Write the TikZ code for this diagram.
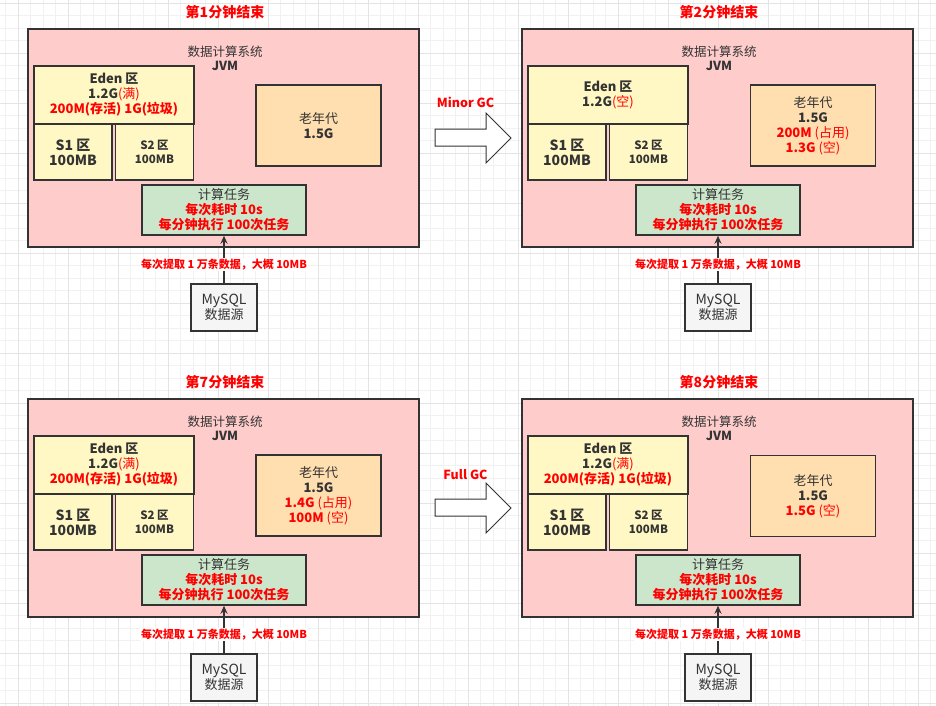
\documentclass[tikz,border=0pt]{standalone}
\usepackage{fontspec}
\setmainfont{Noto Sans CJK SC}
\usetikzlibrary{arrows.meta}

\definecolor{panelpink}{HTML}{FFCCCC}
\definecolor{edenyellow}{HTML}{FFF8C4}
\definecolor{oldorange}{HTML}{FFDFB0}
\definecolor{taskgreen}{HTML}{CCE6CC}
\definecolor{srcgray}{HTML}{F5F5F5}
\definecolor{linegray}{HTML}{333333}
\definecolor{txtred}{HTML}{FF0000}
\definecolor{gridlight}{HTML}{F1F1F1}
\definecolor{griddark}{HTML}{E4E4E4}

\newcommand{\redtxt}[1]{\textcolor{txtred}{#1}}

\begin{document}
\begin{tikzpicture}[
    x=1pt, y=-1pt,
    panel/.style={rectangle, draw=linegray, line width=1.6pt, fill=panelpink, minimum width=391pt, minimum height=218pt},
    box/.style={rectangle, draw=linegray, line width=1.4pt, align=center, text=linegray, inner sep=0pt, font=\fontsize{13}{15}\selectfont},
    eden/.style={box, fill=edenyellow, minimum width=160pt, minimum height=58pt},
    survivor/.style={box, fill=edenyellow, minimum width=78pt, minimum height=56pt},
    oldgen/.style={box, fill=oldorange, minimum width=125pt, minimum height=81pt},
    task/.style={box, fill=taskgreen, minimum width=164pt, minimum height=50pt},
    source/.style={box, fill=srcgray, minimum width=66pt, minimum height=47pt},
    heading/.style={align=center, text=linegray, font=\fontsize{12.5}{14.5}\selectfont},
    title/.style={text=txtred, font=\fontsize{14}{16}\selectfont\bfseries},
    arrow/.style={-{Stealth[length=8pt,width=7pt]}, line width=1.3pt, draw=linegray},
    flowlabel/.style={text=txtred, fill=white, inner sep=1pt, font=\fontsize{11}{12}\selectfont\bfseries},
    gcarrow/.style={draw=linegray, line width=1pt, fill=white},
    gclabel/.style={text=txtred, font=\fontsize{12.5}{14}\selectfont\bfseries},
    gridline/.style={draw=gridlight, line width=0.8pt},
    gridmajor/.style={draw=griddark, line width=0.8pt}
]
\useasboundingbox (0,0) rectangle (936,706);

% Background grid
\fill[white] (0,0) rectangle (936,706);
\foreach \gx in {5.8,18.3,...,936} \draw[gridline] (\gx,0) -- (\gx,706);
\foreach \gy in {3.3,15.8,...,706} \draw[gridline] (0,\gy) -- (936,\gy);
\foreach \gx in {18.3,68.3,...,936} \draw[gridmajor] (\gx,0) -- (\gx,706);
\foreach \gy in {3.3,53.3,...,706} \draw[gridmajor] (0,\gy) -- (936,\gy);

% Minute 1
\node[title] (title1) at (225, 12.5) {第1分钟结束};
\node[panel] (jvm1) at (223.5, 138) {};
\node[heading] (head1) at (225, 58.5) {数据计算系统\\\textbf{JVM}};
\node[eden] (eden1) at (114, 95) {\textbf{Eden 区}\\\textbf{1.2G}\redtxt{(满)}\\\redtxt{\textbf{200M(存活) 1G(垃圾)}}};
\node[survivor, font=\fontsize{14}{15}\selectfont\bfseries] (sa1) at (73, 152) {S1 区\\100MB};
\node[survivor, font=\fontsize{11.5}{14}\selectfont\bfseries] (sb1) at (154.5, 152) {S2 区\\100MB};
\node[oldgen] (old1) at (318.5, 125.5) {老年代\\\textbf{1.5G}};
\node[task] (task1) at (224, 210) {计算任务\\\redtxt{\textbf{每次耗时 10s}}\\\redtxt{\textbf{每分钟执行 100次任务}}};
\node[source] (mysql1) at (224, 307.5) {{\fontsize{14}{15}\selectfont MySQL}\\数据源};
\draw[arrow] (mysql1) -- node[flowlabel, pos=0.39] {每次提取 1 万条数据，大概 10MB} (task1);

% Minor GC
\draw[gcarrow] (435,129) -- (486,129) -- (486,113) -- (511,138) -- (486,163) -- (486,146) -- (435,146) -- cycle;
\node[gclabel] (minorgc) at (465.5, 102.5) {Minor GC};

% Minute 2
\node[title] (title2) at (719, 12.5) {第2分钟结束};
\node[panel] (jvm2) at (717.5, 138) {};
\node[heading] (head2) at (719, 58.5) {数据计算系统\\\textbf{JVM}};
\node[eden] (eden2) at (608, 95) {\textbf{Eden 区}\\\textbf{1.2G}\redtxt{(空)}};
\node[survivor, font=\fontsize{14}{15}\selectfont\bfseries] (sa2) at (567, 152) {S1 区\\100MB};
\node[survivor, font=\fontsize{11.5}{14}\selectfont\bfseries] (sb2) at (648.5, 152) {S2 区\\100MB};
\node[oldgen] (old2) at (813, 125.5) {老年代\\\textbf{1.5G}\\\redtxt{\textbf{200M} (占用)}\\\redtxt{\textbf{1.3G} (空)}};
\node[task] (task2) at (718, 210) {计算任务\\\redtxt{\textbf{每次耗时 10s}}\\\redtxt{\textbf{每分钟执行 100次任务}}};
\node[source] (mysql2) at (718, 307.5) {{\fontsize{14}{15}\selectfont MySQL}\\数据源};
\draw[arrow] (mysql2) -- node[flowlabel, pos=0.39] {每次提取 1 万条数据，大概 10MB} (task2);

% Minute 7
\node[title] (title3) at (225, 382.5) {第7分钟结束};
\node[panel] (jvm3) at (223.5, 508) {};
\node[heading] (head3) at (225, 428.5) {数据计算系统\\\textbf{JVM}};
\node[eden] (eden3) at (114, 465) {\textbf{Eden 区}\\\textbf{1.2G}\redtxt{(满)}\\\redtxt{\textbf{200M(存活) 1G(垃圾)}}};
\node[survivor, font=\fontsize{14}{15}\selectfont\bfseries] (sa3) at (73, 522) {S1 区\\100MB};
\node[survivor, font=\fontsize{11.5}{14}\selectfont\bfseries] (sb3) at (154.5, 522) {S2 区\\100MB};
\node[oldgen] (old3) at (318.5, 495.5) {老年代\\\textbf{1.5G}\\\redtxt{\textbf{1.4G} (占用)}\\\redtxt{\textbf{100M} (空)}};
\node[task] (task3) at (224, 580) {计算任务\\\redtxt{\textbf{每次耗时 10s}}\\\redtxt{\textbf{每分钟执行 100次任务}}};
\node[source] (mysql3) at (224, 677.5) {{\fontsize{14}{15}\selectfont MySQL}\\数据源};
\draw[arrow] (mysql3) -- node[flowlabel, pos=0.39] {每次提取 1 万条数据，大概 10MB} (task3);

% Full GC
\draw[gcarrow] (435,499) -- (486,499) -- (486,483) -- (511,508) -- (486,533) -- (486,516) -- (435,516) -- cycle;
\node[gclabel] (fullgc) at (465.5, 474.5) {Full GC};

% Minute 8
\node[title] (title4) at (719, 382.5) {第8分钟结束};
\node[panel] (jvm4) at (717.5, 508) {};
\node[heading] (head4) at (719, 428.5) {数据计算系统\\\textbf{JVM}};
\node[eden] (eden4) at (608, 465) {\textbf{Eden 区}\\\textbf{1.2G}\redtxt{(满)}\\\redtxt{\textbf{200M(存活) 1G(垃圾)}}};
\node[survivor, font=\fontsize{14}{15}\selectfont\bfseries] (sa4) at (567, 522) {S1 区\\100MB};
\node[survivor, font=\fontsize{11.5}{14}\selectfont\bfseries] (sb4) at (648.5, 522) {S2 区\\100MB};
\node[oldgen] (old4) at (813, 496) {老年代\\\textbf{1.5G}\\\redtxt{\textbf{1.5G} (空)}};
\node[task] (task4) at (718, 580) {计算任务\\\redtxt{\textbf{每次耗时 10s}}\\\redtxt{\textbf{每分钟执行 100次任务}}};
\node[source] (mysql4) at (718, 677.5) {{\fontsize{14}{15}\selectfont MySQL}\\数据源};
\draw[arrow] (mysql4) -- node[flowlabel, pos=0.39] {每次提取 1 万条数据，大概 10MB} (task4);

\end{tikzpicture}
\end{document}
